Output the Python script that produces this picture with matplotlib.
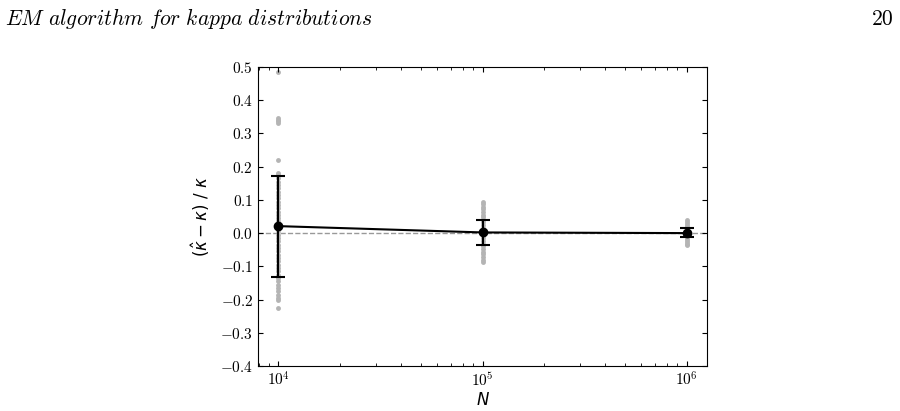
import numpy as np
import matplotlib
matplotlib.use("Agg")
import matplotlib.pyplot as plt

# Размеры выборки
sample_sizes = [1e4, 1e5, 1e6]

# Средняя относительная ошибка и её разброс (std)
mean_err = [0.021, 0.002, 0.0]
err_low = [0.153, 0.039, 0.011]
err_high = [0.151, 0.038, 0.015]

# Отдельные оценки (серые точки)
runs_1e4 = [0.485, 0.345, 0.34, 0.336, 0.332, 0.22, 0.182, 0.175, 0.165, 0.155,
            0.145, 0.135, 0.125, 0.115, 0.105, 0.095, 0.085, 0.075, 0.065, 0.055,
            0.045, 0.035, 0.025, 0.015, 0.005, -0.005, -0.015, -0.025, -0.035,
            -0.045, -0.055, -0.065, -0.075, -0.085, -0.095, -0.105, -0.115,
            -0.125, -0.135, -0.145, -0.155, -0.165, -0.175, -0.185, -0.195,
            -0.2, -0.224]
runs_1e5 = [0.094, 0.088, 0.08, 0.072, 0.064, 0.056, 0.048, 0.04, 0.032, 0.024,
            0.016, 0.008, 0.0, -0.008, -0.016, -0.024, -0.032, -0.04, -0.048,
            -0.056, -0.064, -0.072, -0.08, -0.088]
runs_1e6 = [0.038, 0.032, 0.026, 0.02, 0.014, 0.008, 0.002, -0.004, -0.01,
            -0.016, -0.022, -0.028, -0.034, -0.037]

plt.rcParams['mathtext.fontset'] = 'cm'
plt.rcParams['font.family'] = 'serif'
plt.rcParams['font.serif'] = ['cmr10']
plt.rcParams['axes.formatter.use_mathtext'] = True
plt.rcParams['axes.unicode_minus'] = True

fig = plt.figure(figsize=(9, 4.11), dpi=100)
ax = fig.add_axes([0.2867, 0.1095, 0.4989, 0.7275])

# Серые точки для каждого N
for n, runs in zip(sample_sizes, [runs_1e4, runs_1e5, runs_1e6]):
    ax.plot([n] * len(runs), runs, 'o', color='#b4b4b4', markersize=3.5,
            markeredgewidth=0, zorder=1)

ax.axhline(0, color='#999999', linestyle='--', linewidth=1, zorder=0)

ax.errorbar(sample_sizes, mean_err, yerr=[err_low, err_high], color='black',
            marker='o', markersize=6, linewidth=1.5, elinewidth=1.5,
            capsize=5, capthick=1.5, zorder=3)

ax.set_xscale('log')
ax.set_ylim(-0.4, 0.5)
ax.set_yticks(np.arange(-0.4, 0.51, 0.1))
ax.tick_params(which='both', direction='in', top=True, right=True,
               labelsize=11)

ax.set_xlabel(r'$N$', fontsize=12, family='DejaVu Sans',
              math_fontfamily='dejavusans', labelpad=1)
ax.set_ylabel(r'$(\hat{\kappa}-\kappa)\ /\ \kappa$', fontsize=12,
              family='DejaVu Sans', math_fontfamily='dejavusans', labelpad=6)

# Колонтитул страницы
fig.text(0.006, 0.94, r'$\mathit{EM\ algorithm\ for\ kappa\ distributions}$',
         fontsize=15.5, math_fontfamily='cm', va='baseline')
fig.text(0.993, 0.94, '20', fontsize=15.5, ha='right', va='baseline')

fig.savefig('out.png', dpi=100)
